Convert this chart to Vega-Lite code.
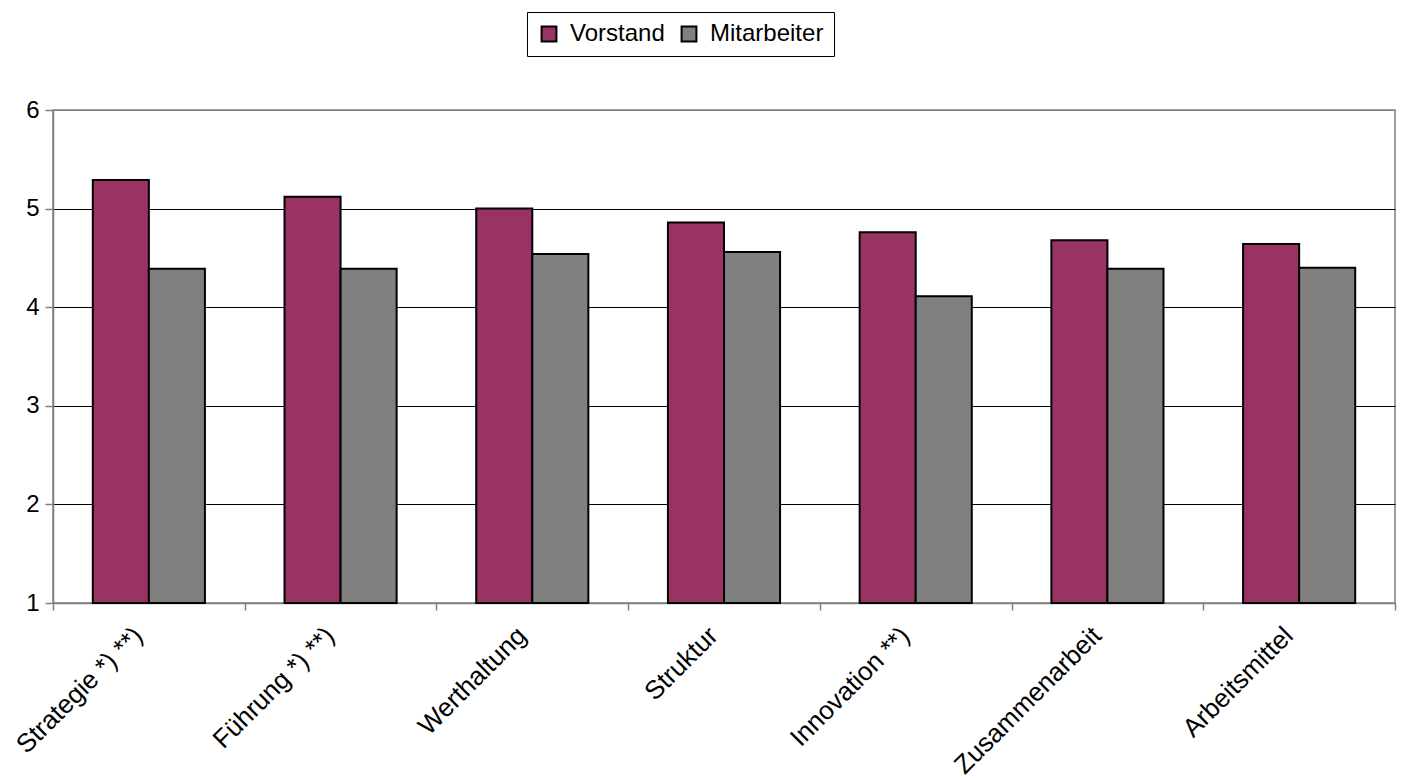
{
  "$schema": "https://vega.github.io/schema/vega-lite/v6.json",
  "width": 1342,
  "height": 493,
  "autosize": {"type": "none"},
  "padding": {"left": 53, "top": 110, "right": 7, "bottom": 175},
  "background": "white",
  "config": {
    "font": "Liberation Sans",
    "view": {"stroke": "#808080", "strokeWidth": 1.5}
  },
  "data": {
    "values": [
      {"bereich": "Strategie *) **)", "gruppe": "Vorstand", "wert": 5.29},
      {"bereich": "Strategie *) **)", "gruppe": "Mitarbeiter", "wert": 4.39},
      {"bereich": "Führung *) **)", "gruppe": "Vorstand", "wert": 5.12},
      {"bereich": "Führung *) **)", "gruppe": "Mitarbeiter", "wert": 4.39},
      {"bereich": "Werthaltung", "gruppe": "Vorstand", "wert": 5.0},
      {"bereich": "Werthaltung", "gruppe": "Mitarbeiter", "wert": 4.54},
      {"bereich": "Struktur", "gruppe": "Vorstand", "wert": 4.86},
      {"bereich": "Struktur", "gruppe": "Mitarbeiter", "wert": 4.56},
      {"bereich": "Innovation **)", "gruppe": "Vorstand", "wert": 4.76},
      {"bereich": "Innovation **)", "gruppe": "Mitarbeiter", "wert": 4.11},
      {"bereich": "Zusammenarbeit", "gruppe": "Vorstand", "wert": 4.68},
      {"bereich": "Zusammenarbeit", "gruppe": "Mitarbeiter", "wert": 4.39},
      {"bereich": "Arbeitsmittel", "gruppe": "Vorstand", "wert": 4.64},
      {"bereich": "Arbeitsmittel", "gruppe": "Mitarbeiter", "wert": 4.4}
    ]
  },
  "mark": {"type": "bar", "stroke": "black", "strokeWidth": 2, "opacity": 1},
  "encoding": {
    "x": {
      "field": "bereich",
      "type": "nominal",
      "sort": null,
      "scale": {"paddingInner": 0, "paddingOuter": 0},
      "axis": {
        "title": null,
        "labelAngle": -45,
        "labelAlign": "right",
        "labelBaseline": "top",
        "labelFontSize": 26,
        "labelColor": "black",
        "labelPadding": 12,
        "labelOffset": -20,
        "labelLimit": 400,
        "tickBand": "extent",
        "tickSize": 7,
        "tickColor": "#808080",
        "tickWidth": 1.5,
        "domainColor": "#808080",
        "domainWidth": 1.5,
        "grid": false
      }
    },
    "xOffset": {
      "field": "gruppe",
      "type": "nominal",
      "sort": ["Vorstand", "Mitarbeiter"],
      "scale": {"paddingInner": 0, "paddingOuter": 0.71}
    },
    "y": {
      "field": "wert",
      "type": "quantitative",
      "scale": {"domain": [1, 6], "nice": false, "zero": false},
      "axis": {
        "title": null,
        "values": [1, 2, 3, 4, 5, 6],
        "format": "d",
        "labelFontSize": 24,
        "labelColor": "black",
        "labelPadding": 6,
        "tickSize": 8,
        "tickColor": "#808080",
        "tickWidth": 1.5,
        "domainColor": "#808080",
        "domainWidth": 1.5,
        "grid": true,
        "gridColor": {"condition": {"test": "datum.value === 6", "value": "#808080"}, "value": "black"},
        "gridWidth": 1,
        "gridOpacity": 1
      }
    },
    "y2": {"datum": 1},
    "color": {
      "field": "gruppe",
      "type": "nominal",
      "sort": ["Vorstand", "Mitarbeiter"],
      "scale": {"domain": ["Vorstand", "Mitarbeiter"], "range": ["#993366", "#808080"]},
      "legend": {
        "title": null,
        "orient": "none",
        "direction": "horizontal",
        "legendX": 474,
        "legendY": -98,
        "strokeColor": "black",
        "fillColor": "white",
        "padding": 10,
        "symbolType": "square",
        "symbolSize": 220,
        "symbolStrokeColor": "black",
        "symbolStrokeWidth": 2,
        "symbolOpacity": 1,
        "labelFontSize": 24,
        "labelColor": "black",
        "labelOffset": 9,
        "columnPadding": 12,
        "labelLimit": 300
      }
    }
  }
}
